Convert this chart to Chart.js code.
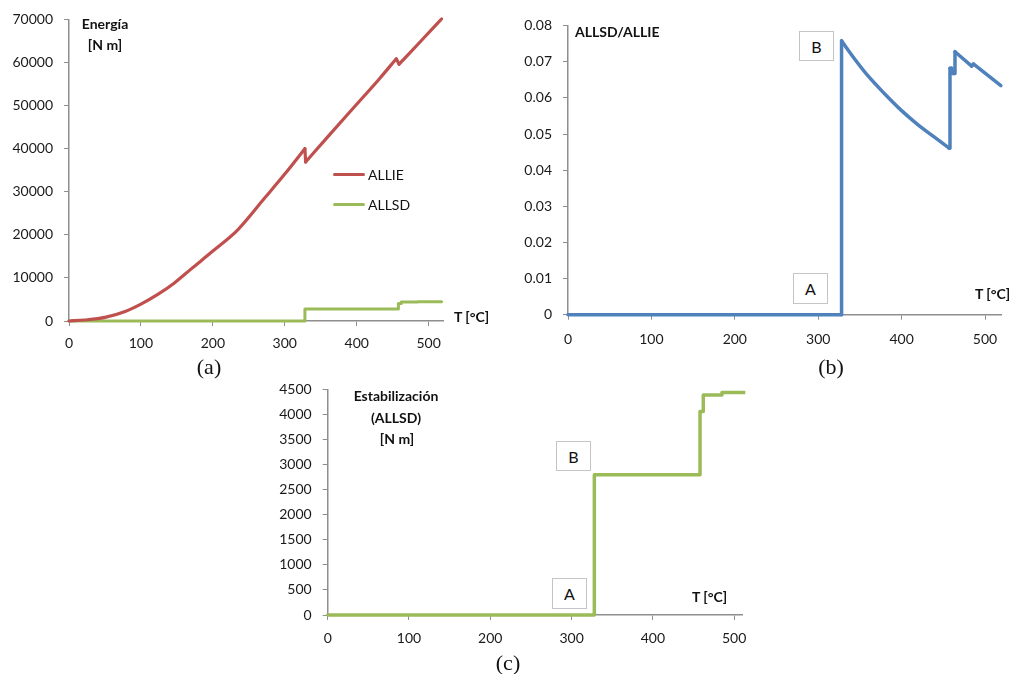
<!DOCTYPE html>
<html>
<head>
<meta charset="utf-8">
<script src="https://cdn.jsdelivr.net/npm/chart.js@4.4.0/dist/chart.umd.min.js"></script>
<style>
body { margin: 0; background: #fff; }
#page { position: relative; width: 1015px; height: 674px; overflow: hidden; font-family: Lato, "Open Sans", sans-serif; color: #111; }
.wrap { position: absolute; }
.lbl { position: absolute; font-weight: bold; font-size: 14px; white-space: nowrap; transform: translate(-50%, -50%); line-height: 1; }
.lft { transform: translate(0, -50%); }
.leg { position: absolute; font-size: 14px; line-height: 1; transform: translate(0, -50%); }
.legline { position: absolute; height: 3px; width: 32px; border-radius: 2px; }
.box { position: absolute; border: 1px solid #c4c4c4; background: #fff; font-size: 16px; box-sizing: border-box;
       display: flex; align-items: center; justify-content: center; }
.cap { position: absolute; font-family: "Liberation Serif", serif; font-size: 22px; transform: translate(-50%, -50%); line-height: 1; }
</style>
</head>
<body>
<div id="page">
  <div class="wrap" style="left:0;top:0;width:460px;height:355px"><canvas id="chartA"></canvas></div>
  <div class="wrap" style="left:500px;top:0;width:515px;height:355px"><canvas id="chartB"></canvas></div>
  <div class="wrap" style="left:260px;top:370px;width:500px;height:304px"><canvas id="chartC"></canvas></div>

  <!-- (a) -->
  <div class="lbl" style="left:105px;top:24px">Energía</div>
  <div class="lbl" style="left:105px;top:45px">[N m]</div>
  <div class="legline" style="left:333px;top:173px;background:#c0504d"></div>
  <div class="leg" style="left:368px;top:175px">ALLIE</div>
  <div class="legline" style="left:333px;top:203px;background:#9bbb59"></div>
  <div class="leg" style="left:368px;top:205px">ALLSD</div>
  <div class="lbl lft" style="left:454px;top:317px">T [°C]</div>
  <div class="cap" style="left:209px;top:367px">(a)</div>

  <!-- (b) -->
  <div class="lbl lft" style="left:575px;top:32px">ALLSD/ALLIE</div>
  <div class="box" style="left:799px;top:31px;width:35px;height:30px">B</div>
  <div class="box" style="left:793px;top:273px;width:35px;height:31px">A</div>
  <div class="lbl lft" style="left:975px;top:294px">T [°C]</div>
  <div class="cap" style="left:831px;top:367px">(b)</div>

  <!-- (c) -->
  <div class="lbl" style="left:396px;top:396px">Estabilización</div>
  <div class="lbl" style="left:396px;top:418px">(ALLSD)</div>
  <div class="lbl" style="left:397px;top:439px">[N m]</div>
  <div class="box" style="left:556px;top:441px;width:35px;height:30px">B</div>
  <div class="box" style="left:552px;top:578px;width:35px;height:31px">A</div>
  <div class="lbl lft" style="left:692px;top:597px">T [°C]</div>
  <div class="cap" style="left:508px;top:663px">(c)</div>
</div>

<script>
// internal energy ALLIE vs temperature
var allieT = [0, 22, 50, 78, 100, 124, 147, 170, 200, 235, 272, 300, 328, 329, 360, 400, 432, 455, 459, 490, 518];
var allieE = [0, 230, 830, 2220, 3920, 6230, 8900, 12100, 16230, 21230, 28530, 34100, 40000, 36900, 42800, 50300, 56300, 60850, 59600, 65100, 70100];

// stabilization energy ALLSD
var allsdT = [0, 328, 328, 458, 458, 462, 462, 484, 485, 518];
var allsdE = [0, 0, 2800, 2800, 4060, 4060, 4390, 4390, 4440, 4440];

// ratio ALLSD/ALLIE
var ratioT = [0, 328, 328, 343, 359, 379, 399, 419, 439, 457, 458, 460, 461, 463, 464, 484, 486, 519];
var ratioV = [0, 0, 0.0758, 0.0710, 0.0663, 0.0613, 0.0567, 0.0527, 0.0492, 0.0461, 0.0682, 0.0682, 0.0668, 0.0668, 0.0728, 0.0688, 0.0694, 0.0634];

var xTicks = [0, 100, 200, 300, 400, 500];

var axisColour = '#8e8e8e';
Chart.defaults.font.family = 'Lato, "Open Sans", sans-serif';
Chart.defaults.font.size = 14;
Chart.defaults.color = '#1a1a1a';
Chart.defaults.animation = false;

function pts(xs, ys) {
    return xs.map((x, i) => ({ x: x, y: ys[i] }));
}

// cut a series into runs where y keeps going the same way, so each run
// can be smoothed without rounding off the sudden drops
function runs(xs, ys) {
    var p = pts(xs, ys), out = [], cur = [p[0]], dir = null;
    for (var i = 1; i < p.length; i++) {
        var d = Math.sign(p[i].y - p[i - 1].y);
        if (p[i].x === p[i - 1].x) d = 2;
        if (dir !== null && d !== dir) {
            out.push(cur);
            cur = [p[i - 1]];
        }
        cur.push(p[i]);
        dir = d;
    }
    out.push(cur);
    return out;
}

function line(data, colour, width, smooth) {
    return {
        data: data,
        borderColor: colour,
        borderWidth: width,
        pointRadius: 0,
        borderJoinStyle: 'round',
        borderCapStyle: 'round',
        cubicInterpolationMode: smooth && data.length > 2 ? 'monotone' : 'default',
        tension: 0,
        clip: 3
    };
}

function smoothLines(xs, ys, colour, width) {
    return runs(xs, ys).map(r => line(r, colour, width, true));
}

function axisStyle() {
    return {
        grid: { display: true, drawOnChartArea: false, drawTicks: true, tickLength: 5, color: axisColour, lineWidth: 1 },
        border: { display: true, color: axisColour, width: 1.5 }
    };
}

function makeChart(id, datasets, xMax, xPad, yMax, yStep, yLabel, yWidth, pad) {
    var xs = axisStyle(), ys = axisStyle();
    return new Chart(document.getElementById(id), {
        type: 'line',
        data: { datasets: datasets },
        options: {
            responsive: true,
            maintainAspectRatio: false,
            layout: { padding: pad },
            plugins: { legend: { display: false }, tooltip: { enabled: false } },
            scales: {
                x: Object.assign(xs, {
                    type: 'linear', min: 0, max: xMax,
                    ticks: { padding: xPad, maxRotation: 0, autoSkip: false },
                    afterBuildTicks: s => { s.ticks = xTicks.map(v => ({ value: v })); },
                    afterFit: s => { s.height = 30; }
                }),
                y: Object.assign(ys, {
                    min: 0, max: yMax,
                    ticks: { stepSize: yStep, padding: 11, callback: yLabel },
                    afterFit: s => { s.width = yWidth; }
                })
            }
        }
    });
}

makeChart('chartA',
    smoothLines(allieT, allieE, '#c0504d', 3.2).concat([line(pts(allsdT, allsdE), '#9bbb59', 3)]),
    520, 9, 70000, 10000, v => String(v), 69, { top: 17.7, right: 17, bottom: 4, left: 0 });

makeChart('chartB',
    smoothLines(ratioT, ratioV, '#4f81bd', 3.5),
    520, 11.5, 0.08, 0.01, v => v === 0 ? '0' : v.toFixed(2), 68, { top: 25.7, right: 13.3, bottom: 10.3, left: 0 });

makeChart('chartC',
    [line(pts(allsdT, allsdE), '#9bbb59', 3.5)],
    510, 10.5, 4500, 500, v => String(v), 67.7, { top: 15.7, right: 17.7, bottom: 29, left: 0 });
</script>
</body>
</html>
